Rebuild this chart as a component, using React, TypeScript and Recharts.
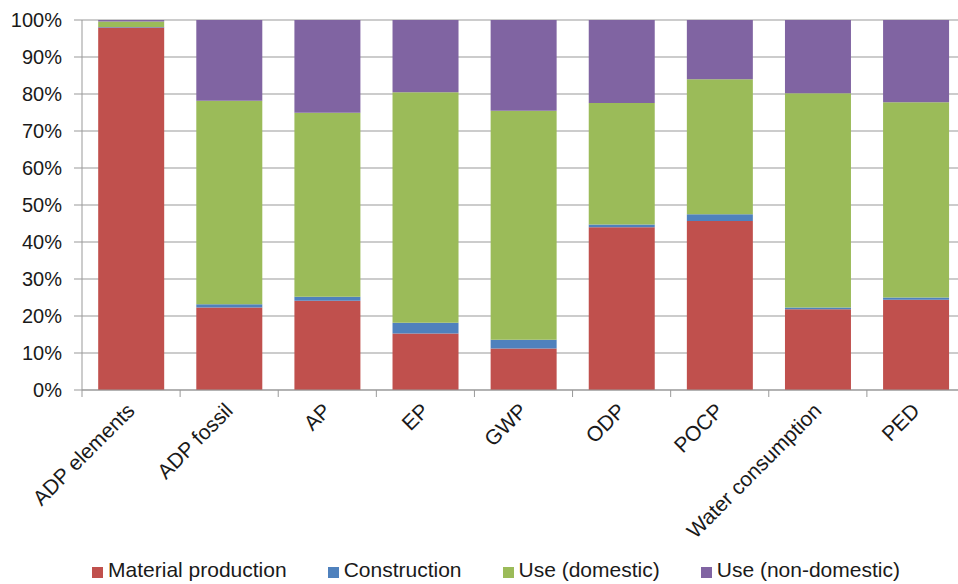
import React from 'react';
import { BarChart, Bar, XAxis, YAxis, CartesianGrid, Legend } from 'recharts';

// impact categories and the share of each life-cycle stage (%)
const categories = [
	'ADP elements',
	'ADP fossil',
	'AP',
	'EP',
	'GWP',
	'ODP',
	'POCP',
	'Water consumption',
	'PED',
];
const materialProduction = [98.0, 22.3, 24.1, 15.3, 11.2, 44.0, 45.7, 21.8, 24.4];
const construction = [0.1, 0.9, 1.1, 2.9, 2.4, 0.7, 1.8, 0.5, 0.6];
const useDomestic = [1.5, 55.0, 49.7, 62.3, 61.9, 32.9, 36.5, 57.9, 52.8];
const useNonDomestic = [0.4, 21.8, 25.1, 19.5, 24.5, 22.4, 16.0, 19.8, 22.2];
const yTicks = [0, 10, 20, 30, 40, 50, 60, 70, 80, 90, 100];

const series = [
	{ key: 'material', name: 'Material production', color: '#C0504D', values: materialProduction },
	{ key: 'construction', name: 'Construction', color: '#4F81BD', values: construction },
	{ key: 'domestic', name: 'Use (domestic)', color: '#9BBB59', values: useDomestic },
	{ key: 'nonDomestic', name: 'Use (non-domestic)', color: '#8064A2', values: useNonDomestic },
];

const data = categories.map((name, i) => {
	const row: Record<string, any> = { name };
	series.forEach((s) => {
		row[s.key] = s.values[i];
	});
	return row;
});

const FONT = '"Liberation Sans", Arial, sans-serif';
const TEXT = '#1a1a1a';
const AXIS = '#999999';

// the plot runs a little past the right edge of the frame, which clips it
const CHART_W = 980;
const CHART_H = 600;
const MARGIN = { top: 20, right: 15, bottom: 18, left: 0 };
const Y_AXIS_W = 82;
const BAND = (CHART_W - MARGIN.left - MARGIN.right - Y_AXIS_W) / categories.length;

// rotated category label, with the tick mark drawn on the category boundary
const CategoryTick = (props: any) => {
	const { x, y, payload } = props;
	const left = x - BAND / 2;
	const tx = x + 5;
	const ty = y + 22;
	return (
		<g>
			<line x1={left} y1={y} x2={left} y2={y + 7} stroke={AXIS} />
			<text
				x={tx}
				y={ty}
				transform={`rotate(-45, ${tx}, ${ty})`}
				textAnchor='end'
				fill={TEXT}
				fontSize={21}
				fontFamily={FONT}
			>
				{payload.value}
			</text>
		</g>
	);
};

const LegendContent = () => (
	<div
		style={{
			display: 'flex',
			justifyContent: 'center',
			alignItems: 'center',
			gap: 41,
			height: 24,
			paddingLeft: 27,
			fontFamily: FONT,
			fontSize: 21,
			color: TEXT,
			whiteSpace: 'nowrap',
		}}
	>
		{series.map((s) => (
			<div key={s.key} style={{ display: 'flex', alignItems: 'center' }}>
				<span
					style={{
						display: 'inline-block',
						width: 11,
						height: 11,
						background: s.color,
						marginRight: 5,
						position: 'relative',
						top: 2,
					}}
				/>
				{s.name}
			</div>
		))}
	</div>
);

export default function App() {
	return (
		<div
			style={{
				position: 'absolute',
				left: 0,
				top: 0,
				width: 958,
				height: 584,
				overflow: 'hidden',
				background: '#fff',
			}}
		>
			<BarChart
				width={CHART_W}
				height={CHART_H}
				data={data}
				margin={MARGIN}
				barCategoryGap='16.5%'
			>
				<CartesianGrid vertical={false} stroke={AXIS} />
				<XAxis
					dataKey='name'
					interval={0}
					height={168}
					tickSize={0}
					tickMargin={0}
					tickLine={false}
					axisLine={{ stroke: AXIS }}
					tick={<CategoryTick />}
				/>
				<YAxis
					width={Y_AXIS_W}
					domain={[0, 100]}
					ticks={yTicks}
					tickFormatter={(v: number) => `${v}%`}
					tickSize={8}
					tickMargin={12}
					tickLine={{ stroke: AXIS }}
					axisLine={{ stroke: AXIS }}
					tick={{ fill: TEXT, fontSize: 20, fontFamily: FONT }}
				/>
				<Legend verticalAlign='bottom' content={<LegendContent />} />
				{series.map((s) => (
					<Bar
						key={s.key}
						dataKey={s.key}
						name={s.name}
						stackId='a'
						fill={s.color}
						isAnimationActive={false}
					/>
				))}
			</BarChart>
		</div>
	);
}
